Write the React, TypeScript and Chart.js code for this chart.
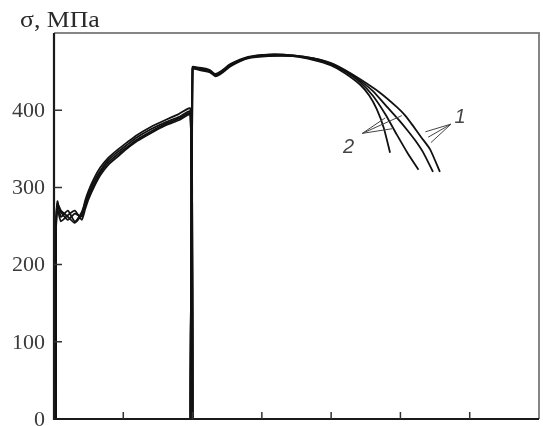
import React, { useEffect, useRef } from "react";
import { Chart, registerables } from "chart.js";

Chart.register(...registerables);

// ---- Data (strain in tick-interval units, stress in MPa) ----
// Stage 1: loading up to ~400 MPa, then unloading at x≈1.97
const stage1X = [0.03, 0.03, 0.05, 0.1, 0.2, 0.3, 0.4, 0.45, 0.5, 0.58, 0.67, 0.78, 0.92, 1.05, 1.2, 1.39, 1.6, 1.8, 1.97, 1.97];
const stage1A = [0, 248, 282, 262, 270, 256, 268, 280, 292, 308, 322, 335, 346, 355, 365, 375, 384, 391, 398, 0];
const stage1B = [0, 245, 276, 268, 258, 266, 262, 276, 288, 304, 319, 332, 343, 352, 362, 372, 382, 389, 396, 0];
const stage1C = [0, 250, 272, 256, 264, 270, 258, 272, 285, 301, 316, 329, 340, 350, 360, 370, 380, 387, 394, 0];
const stage1D = [0, 252, 279, 270, 262, 254, 265, 283, 296, 312, 326, 338, 349, 358, 368, 378, 387, 395, 402, 0];

// Stage 2: reloading from x≈2.0, common part up to x≈4.2
const stage2X = [2.0, 2.0, 2.1, 2.25, 2.33, 2.42, 2.55, 2.8, 3.1, 3.45, 3.75, 4.0, 4.2];
const stage2A = [0, 455, 455, 452, 446, 450, 459, 468, 471, 470, 465, 458, 448];
const stage2B = [0, 453, 452, 449, 444, 448, 457, 467, 470, 470, 466, 459, 450];
const stage2C = [0, 456, 454, 450, 447, 451, 460, 469, 472, 471, 467, 460, 451];
const stage2D = [0, 454, 453, 451, 445, 449, 458, 468, 472, 471, 467, 461, 452];

// Tails (fracture stage) – each curve separately
const tailAX = [4.42, 4.55, 4.66, 4.76, 4.85];
const tailAY = [433, 419, 401, 377, 345];
const tailBX = [4.42, 4.6, 4.78, 4.95, 5.1, 5.26];
const tailBY = [436, 419, 395, 368, 345, 323];
const tailCX = [4.42, 4.6, 4.81, 4.97, 5.1, 5.22, 5.33, 5.47];
const tailCY = [438, 425, 404, 388, 374, 360, 345, 320];
const tailDX = [4.42, 4.7, 4.95, 5.07, 5.18, 5.3, 5.43, 5.57];
const tailDY = [440, 423, 404, 393, 380, 365, 349, 320];

// Axis ticks
const xTicks = [1, 2, 3, 4, 5, 6];
const yTicks = [0, 100, 200, 300, 400];
const yTickLabels = ["0", "100", "200", "300", "400"];

// Annotations: labels "1" and "2" with leader lines (data coordinates)
const label2 = { text: "2", x: 4.25, y: 352 };
const label2Origin = { x: 4.45, y: 370 };
const label2Targets = [
  { x: 4.78, y: 390 },
  { x: 5.02, y: 393 },
  { x: 4.88, y: 376 },
];
const label1 = { text: "1", x: 5.86, y: 390 };
const label1Origin = { x: 5.73, y: 382 };
const label1Targets = [
  { x: 5.36, y: 372 },
  { x: 5.4, y: 365 },
  { x: 5.44, y: 358 },
];

function buildCurve(s1: number[], s2: number[], tx: number[], ty: number[]) {
  const pts: { x: number; y: number }[] = [];
  stage1X.forEach((x, i) => pts.push({ x, y: s1[i] }));
  stage2X.forEach((x, i) => pts.push({ x, y: s2[i] }));
  tx.forEach((x, i) => pts.push({ x, y: ty[i] }));
  return pts;
}

const frame = {
  id: "frame",
  afterDatasetsDraw(chart: any) {
    const { ctx, chartArea: a, scales } = chart;
    const xs = scales.x;
    const ys = scales.y;
    ctx.save();
    // top and right border (gray)
    ctx.strokeStyle = "#858585";
    ctx.lineWidth = 2;
    ctx.beginPath();
    ctx.moveTo(a.left, a.top);
    ctx.lineTo(a.right, a.top);
    ctx.lineTo(a.right, a.bottom);
    ctx.stroke();
    // left and bottom axis (dark)
    ctx.strokeStyle = "#1a1a1a";
    ctx.lineWidth = 2.2;
    ctx.beginPath();
    ctx.moveTo(a.left, a.top);
    ctx.lineTo(a.left, a.bottom);
    ctx.lineTo(a.right, a.bottom);
    ctx.stroke();
    // inward ticks
    ctx.strokeStyle = "#333";
    ctx.lineWidth = 1.5;
    ctx.beginPath();
    xTicks.forEach((v) => {
      const px = xs.getPixelForValue(v);
      ctx.moveTo(px, a.bottom);
      ctx.lineTo(px, a.bottom - 7);
    });
    yTicks.forEach((v) => {
      if (v === 0) return;
      const py = ys.getPixelForValue(v);
      ctx.moveTo(a.left, py);
      ctx.lineTo(a.left + 8, py);
    });
    ctx.stroke();
    // y tick labels
    ctx.fillStyle = "#3a3a3a";
    ctx.font = "22px 'Liberation Serif', serif";
    ctx.textAlign = "right";
    ctx.textBaseline = "middle";
    yTicks.forEach((v, i) => {
      const py = ys.getPixelForValue(v);
      ctx.fillText(yTickLabels[i], a.left - 9, py + 1);
    });
    // axis title
    ctx.save();
    ctx.textAlign = "left";
    ctx.textBaseline = "alphabetic";
    ctx.font = "23px 'Liberation Serif', serif";
    ctx.translate(20, 27);
    ctx.scale(1.12, 1);
    ctx.fillStyle = "#2a2a2a";
    ctx.fillText("σ, МПа", 0, 0);
    ctx.restore();
    // annotations
    ctx.strokeStyle = "#444";
    ctx.lineWidth = 1;
    ctx.beginPath();
    const o2x = xs.getPixelForValue(label2Origin.x);
    const o2y = ys.getPixelForValue(label2Origin.y);
    label2Targets.forEach((t) => {
      ctx.moveTo(o2x, o2y);
      ctx.lineTo(xs.getPixelForValue(t.x), ys.getPixelForValue(t.y));
    });
    const o1x = xs.getPixelForValue(label1Origin.x);
    const o1y = ys.getPixelForValue(label1Origin.y);
    label1Targets.forEach((t) => {
      ctx.moveTo(o1x, o1y);
      ctx.lineTo(xs.getPixelForValue(t.x), ys.getPixelForValue(t.y));
    });
    ctx.stroke();
    ctx.fillStyle = "#444";
    ctx.font = "italic 20px 'Liberation Sans', sans-serif";
    ctx.textAlign = "center";
    ctx.textBaseline = "middle";
    ctx.fillText(label2.text, xs.getPixelForValue(label2.x), ys.getPixelForValue(label2.y));
    ctx.fillText(label1.text, xs.getPixelForValue(label1.x), ys.getPixelForValue(label1.y));
    ctx.restore();
  },
};

export default function App() {
  const ref = useRef<HTMLCanvasElement | null>(null);
  useEffect(() => {
    if (!ref.current) return;
    const curves = [
      buildCurve(stage1A, stage2A, tailAX, tailAY),
      buildCurve(stage1B, stage2B, tailBX, tailBY),
      buildCurve(stage1C, stage2C, tailCX, tailCY),
      buildCurve(stage1D, stage2D, tailDX, tailDY),
    ];
    const chart = new Chart(ref.current, {
      type: "scatter",
      data: {
        datasets: curves.map((d, i) => ({
          label: "curve " + (i + 1),
          data: d,
          showLine: true,
          borderColor: "#111",
          borderWidth: 1.8,
          pointRadius: 0,
          tension: 0.2,
          fill: false,
        })),
      },
      options: {
        animation: false,
        responsive: false,
        events: [],
        layout: { padding: { left: 0, top: 33, right: 4, bottom: 7 } },
        plugins: {
          legend: { display: false },
          tooltip: { enabled: false },
          title: { display: false },
        },
        scales: {
          x: {
            type: "linear",
            min: 0,
            max: 7,
            ticks: { display: false },
            grid: { display: false },
            border: { display: false },
            afterFit: (s: any) => {
              s.height = 0;
            },
          },
          y: {
            type: "linear",
            min: 0,
            max: 500,
            ticks: { display: false },
            grid: { display: false },
            border: { display: false },
            afterFit: (s: any) => {
              s.width = 54;
            },
          },
        },
      },
      plugins: [frame],
    });
    return () => chart.destroy();
  }, []);
  return (
    <div style={{ position: "fixed", left: 0, top: 0, width: 543, height: 426, background: "#fff" }}>
      <canvas ref={ref} width={543} height={426} />
    </div>
  );
}
